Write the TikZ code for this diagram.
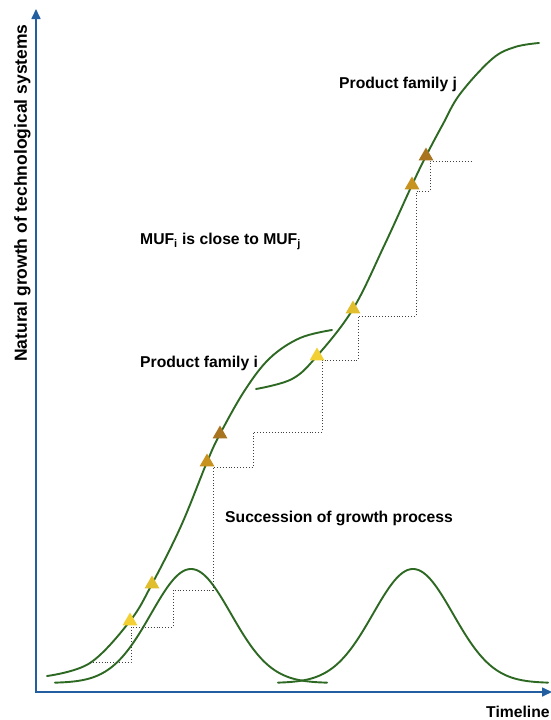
\documentclass[tikz,border=0pt]{standalone}
\usepackage{fontspec}
\setmainfont{Liberation Sans}
\usetikzlibrary{arrows.meta,shapes.geometric}
\definecolor{axisblue}{RGB}{35,95,160}
\definecolor{curvegreen}{RGB}{45,105,35}
\definecolor{triA}{RGB}{242,208,52}
\definecolor{triB}{RGB}{224,190,46}
\definecolor{triC}{RGB}{200,146,30}
\definecolor{triD}{RGB}{168,116,32}
\tikzset{
  axisline/.style={draw=axisblue, line width=1.6pt, line join=miter,
    arrows={Triangle[width=9pt,length=10pt]-Triangle[width=9pt,length=10pt]}},
  growth/.style={draw=curvegreen, line width=1.9pt, line cap=round},
  stair/.style={draw=black!75, dotted, line width=0.9pt},
  marker/.style={regular polygon, regular polygon sides=3, minimum size=17pt,
    inner sep=0pt, draw=none, fill=#1},
  lbl/.style={font=\bfseries\fontsize{15.7}{18}\selectfont, inner sep=0pt, anchor=base west, text=black},
  ylbl/.style={font=\bfseries\fontsize{17.5}{20}\selectfont, inner sep=0pt, anchor=base west, rotate=90, text=black}
}
\begin{document}
\begin{tikzpicture}[x=1pt, y=-1pt]
\useasboundingbox (0,0) rectangle (551,720);
\fill[white] (0,0) rectangle (551,720);

% axes
\coordinate (Ytop) at (36,9);
\coordinate (O) at (36,692);
\coordinate (Xend) at (552,692);
\draw[axisline] (Ytop) -- (O) -- (Xend);

% bell curves
\draw[growth] plot[domain=55:327, samples=120] (\x, {683-114*exp(-0.5*((\x-191)/40)^2)});
\draw[growth] plot[domain=278:548, samples=120] (\x, {683-114*exp(-0.5*((\x-413)/40)^2)});

% S-curve family i
\draw[growth] plot[smooth, tension=0.6] coordinates {(47,676) (90,663) (130,621) (152,584) (181,526) (207,462) (220,434) (245,390) (270,358) (300,338) (332,330)};
% S-curve family j
\draw[growth] plot[smooth, tension=0.6] coordinates {(256,389) (292,379) (317,356) (353,309) (384,246) (412,185) (426,156) (443,124) (460,94) (492,59) (515,47) (539,43)};

% dotted staircase
\coordinate (s0) at (90,662);
\coordinate (s1) at (131,662);
\coordinate (s2) at (131,627);
\coordinate (s3) at (173,627);
\coordinate (s4) at (173,590);
\coordinate (s5) at (213,590);
\coordinate (s6) at (213,467);
\coordinate (s7) at (253,467);
\coordinate (s8) at (253,432);
\coordinate (s9) at (322,432);
\coordinate (s10) at (322,360);
\coordinate (s11) at (358,360);
\coordinate (s12) at (358,316);
\coordinate (s13) at (416,316);
\coordinate (s14) at (416,191);
\coordinate (s15) at (430,191);
\coordinate (s16) at (430,161);
\coordinate (s17) at (472,161);
\draw[stair] (s0) -- (s1) -- (s2) -- (s3) -- (s4) -- (s5) -- (s6) -- (s7) -- (s8) -- (s9) -- (s10) -- (s11) -- (s12) -- (s13) -- (s14) -- (s15) -- (s16) -- (s17);

% triangle markers
\node[marker=triA] (a1) at (130,621) {};
\node[marker=triB] (a2) at (152,584) {};
\node[marker=triC] (a3) at (207,462) {};
\node[marker=triD] (a4) at (220,434) {};
\node[marker=triA] (b1) at (317,356) {};
\node[marker=triB] (b2) at (353,309) {};
\node[marker=triC] (b3) at (412,185) {};
\node[marker=triD] (b4) at (426,156) {};

% labels
\node[lbl] (pj) at (339,88) {Product family j};
\node[lbl] (muf) at (140,244) {MUF\textsubscript{i} is close to MUF\textsubscript{j}};
\node[lbl] (pi) at (140,367) {Product family i};
\node[lbl] (sg) at (225,522) {Succession of growth process};
\node[lbl] (tl) at (486,717) {Timeline};
\node[ylbl] (yl) at (27,362) {Natural growth of technological systems};
\end{tikzpicture}
\end{document}
